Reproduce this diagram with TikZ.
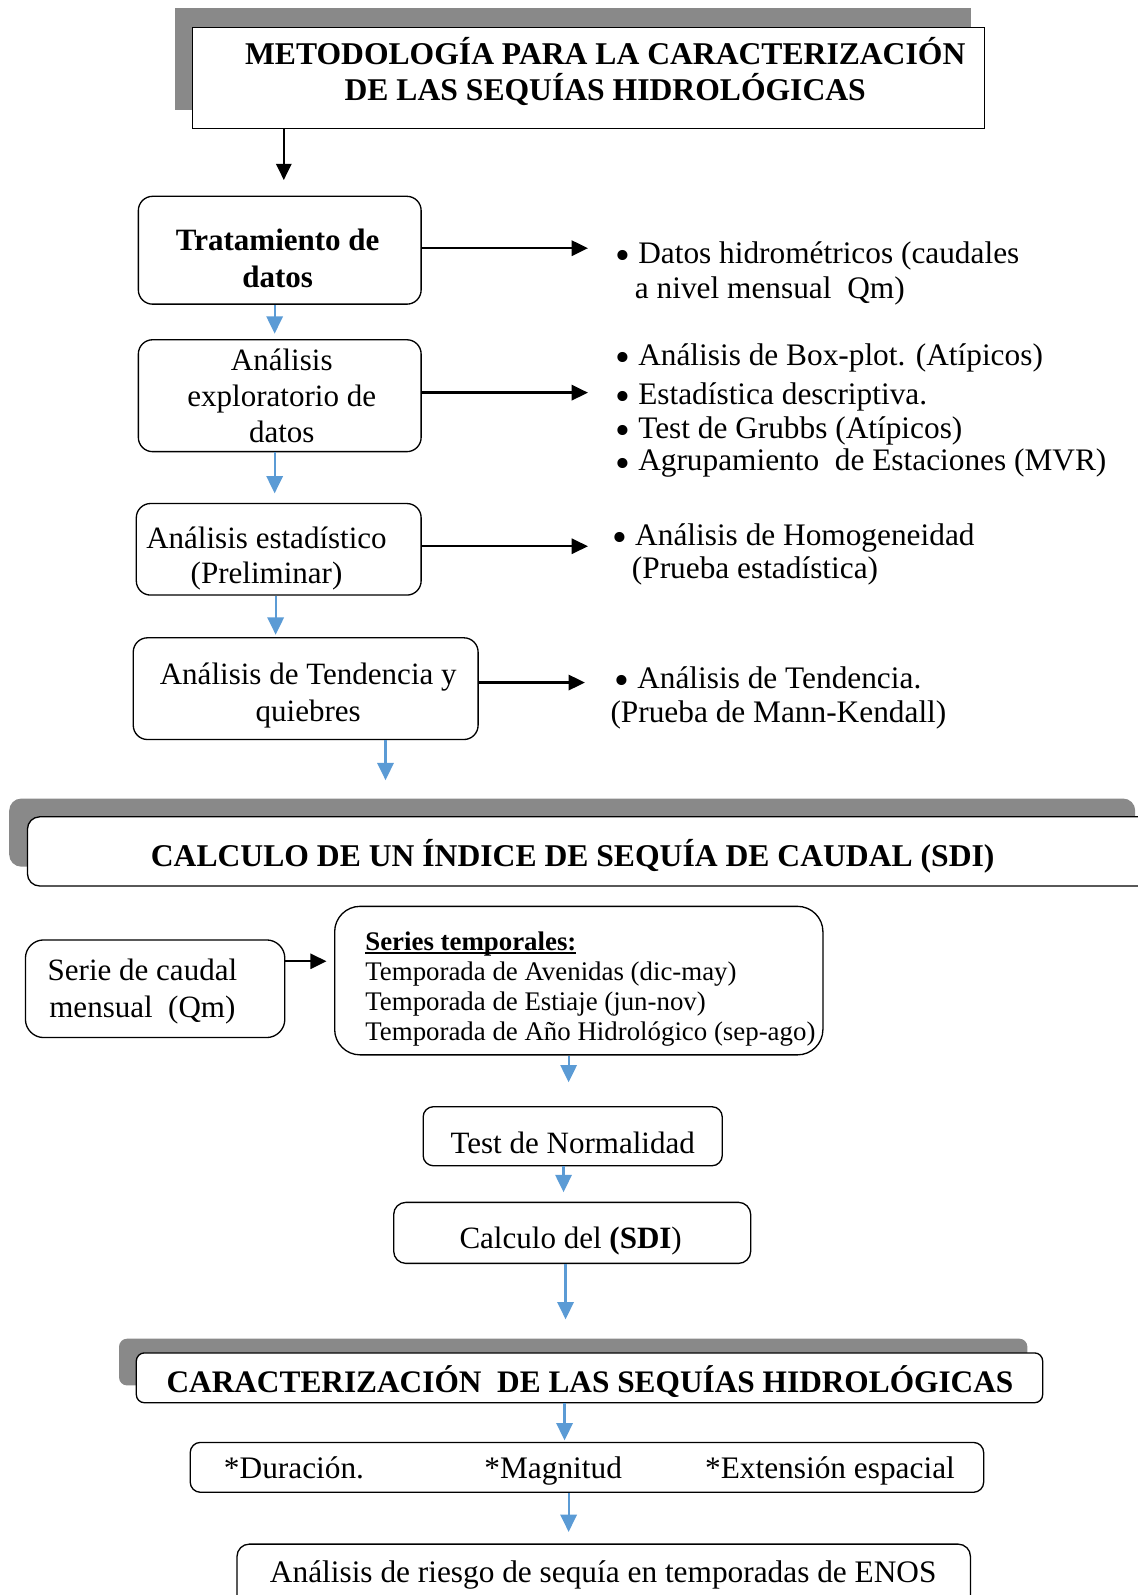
\documentclass[tikz,border=0pt]{standalone}
\usepackage{fontspec}
\setmainfont{Liberation Serif}
\usetikzlibrary{arrows.meta}
\definecolor{bargray}{RGB}{137,137,137}
\definecolor{flow}{RGB}{91,155,213}
% underline drawn as a bar just under the baseline
\newcommand\ulbar[1]{\setbox0\hbox{#1}\rlap{\rule[-3.5pt]{\wd0}{1.8pt}}\box0}
% a somewhat larger list bullet, sitting on the x-height middle
\newcommand\bul{\smash{\raisebox{-6pt}{\scalebox{1.35}{•}}}}

\begin{document}
\begin{tikzpicture}[x=1pt,y=-1pt,
  box/.style={draw, fill=white, line width=1.3pt, rounded corners=#1, inner sep=0pt},
  box/.default=14pt,
  txt/.style={font=\fontsize{30.5}{36}\selectfont, align=center, inner sep=0pt},
  btxt/.style={font=\fontsize{30.5}{36}\selectfont\bfseries, align=center, inner sep=0pt},
  item/.style={font=\fontsize{30.8}{34}\selectfont, align=left, anchor=base west, inner sep=0pt},
  blk/.style={line width=2.3pt, -{Triangle[length=16pt,width=15pt]}},
  blu/.style={flow, line width=2.2pt, -{Triangle[length=17pt,width=16pt]}},
]
\useasboundingbox (0,0) rectangle (1118,1568);

% ---------- title ----------
\fill[bargray] (172,8) rectangle (955,108);
\node[draw, fill=white, line width=1.3pt, minimum width=779pt, minimum height=99pt, inner sep=0pt] (title) at (578.5,76.5) {};
\node[btxt, font=\fontsize{31.1}{35.5}\selectfont\bfseries] (t-title) at (595,70)
  {METODOLOGÍA PARA LA CARACTERIZACIÓN\\DE LAS SEQUÍAS HIDROLÓGICAS};

% ---------- data treatment chain ----------
\node[box, minimum width=278pt, minimum height=106pt] (trat) at (275,246) {};
\node[btxt] (t-trat) at (273,254) {Tratamiento de\\datos};

\node[box, minimum width=278pt, minimum height=110pt] (expl) at (275,389) {};
\node[txt, font=\fontsize{30.5}{35.5}\selectfont] (t-expl) at (277,389) {Análisis\\exploratorio de\\datos};

\node[box, minimum width=280pt, minimum height=90pt] (estad) at (274,540) {};
\node[txt, font=\fontsize{30.5}{34}\selectfont] (t-estad) at (262,549) {Análisis estadístico\\(Preliminar)};

\node[box, minimum width=339pt, minimum height=100pt] (tend) at (300.5,677) {};
\node[txt] (t-tend) at (303,684) {Análisis de Tendencia y\\quiebres};

% ---------- side notes ----------
\node[item, anchor=west, font=\fontsize{30.8}{35}\selectfont] (n1) at (605,269)
  {\bul\ Datos hidrométricos (caudales\\\hspace*{19pt}a nivel mensual\enspace Qm)};
\node[item] (n2) at (605,359) {\bul\ Análisis de Box-plot. (Atípicos)};
\node[item] (n3) at (605,398) {\bul\ Estadística descriptiva.};
\node[item] (n4) at (605,431) {\bul\ Test de Grubbs (Atípicos)};
\node[item] (n5) at (605,463) {\bul\ Agrupamiento\enspace de Estaciones (MVR)};
\node[item, anchor=west, font=\fontsize{30.8}{33}\selectfont] (n6) at (602,545)
  {\bul\ Análisis de Homogeneidad\\\hspace*{19pt}(Prueba estadística)};
\node[item, anchor=west, font=\fontsize{30.8}{33}\selectfont] (n7) at (600,686)
  {\hspace*{4pt}\bul\ Análisis de Tendencia.\\(Prueba de Mann-Kendall)};

% ---------- connectors, first part ----------
\coordinate (a0) at (279,177);
\draw[blk] (title.south -| a0) -- (a0);
\coordinate (r1) at (578,244);
\coordinate (r2) at (578,386);
\coordinate (r3) at (578,537);
\coordinate (r4) at (575,671);
\draw[blk] (trat.east |- r1) -- (r1);
\draw[blk] (expl.east |- r2) -- (r2);
\draw[blk] (estad.east |- r3) -- (r3);
\draw[blk] (tend.east |- r4) -- (r4);
\coordinate (d1) at (270,328);
\coordinate (d2) at (270,485);
\coordinate (d3) at (271,624);
\coordinate (d4) at (379,767);
\draw[blu] (trat.south -| d1) -- (d1);
\draw[blu] (expl.south -| d2) -- (d2);
\draw[blu] (estad.south -| d3) -- (d3);
\draw[blu] (tend.south -| d4) -- (d4);

% ---------- SDI section ----------
\fill[bargray, rounded corners=12pt] (9,785) rectangle (1116,852);
\node[box=12pt, minimum width=1113pt, minimum height=68pt] (calc) at (583.5,837) {};
\node[btxt, font=\fontsize{31.1}{36}\selectfont\bfseries] (t-calc) at (563,842)
  {CALCULO DE UN ÍNDICE DE SEQUÍA DE CAUDAL (SDI)};

\node[box=18pt, minimum width=255pt, minimum height=96pt] (serie) at (152.5,972) {};
\node[txt] (t-serie) at (140,975) {Serie de caudal\\mensual\enspace(Qm)};

\node[box=25pt, minimum width=480pt, minimum height=146pt] (series) at (569,964) {};
\node[item, anchor=west, font=\fontsize{26.4}{29.5}\selectfont] (t-series) at (359,972)
  {\ulbar{\bfseries Series temporales:}\\
   Temporada de Avenidas (dic-may)\\
   Temporada de Estiaje (jun-nov)\\
   Temporada de Año Hidrológico (sep-ago)};

\node[box=10pt, minimum width=294pt, minimum height=58pt] (norm) at (563,1117) {};
\node[txt] (t-norm) at (563,1124) {Test de Normalidad};

\node[box=12pt, minimum width=351pt, minimum height=60pt] (sdi) at (562.5,1212) {};
\node[txt] (t-sdi) at (561,1220) {Calculo del \textbf{(SDI})};

\coordinate (r5) at (321,945);
\draw[blk] (serie.east |- r5) -- (r5);
\coordinate (d5) at (559,1064);
\coordinate (d6) at (554,1172);
\coordinate (d7) at (556,1297);
\draw[blu] (series.south -| d5) -- (d5);
\draw[blu] (norm.south -| d6) -- (d6);
\draw[blu] (sdi.south -| d7) -- (d7);

% ---------- characterisation section ----------
\fill[bargray, rounded corners=8pt] (117,1316) rectangle (1010,1362);
\node[box=8pt, minimum width=891pt, minimum height=49pt] (caract) at (579.5,1354.5) {};
\node[btxt, font=\fontsize{30.8}{36}\selectfont\bfseries] (t-caract) at (580,1358)
  {CARACTERIZACIÓN\enspace DE LAS SEQUÍAS HIDROLÓGICAS};

\node[box=10pt, minimum width=780pt, minimum height=49pt] (dur) at (577,1442.5) {};
\node[item] (t-dur) at (220,1453) {*Duración.};
\node[item] (t-mag) at (476,1453) {*Magnitud};
\node[item] (t-ext) at (693,1453) {*Extensión espacial};

\node[box=12pt, minimum width=721pt, minimum height=67pt] (enos) at (593.5,1551.5) {};
\node[txt, font=\fontsize{30.8}{36}\selectfont] (t-enos) at (593,1548) {Análisis de riesgo de sequía en temporadas de ENOS};

\coordinate (d8) at (555,1416);
\coordinate (d9) at (559,1506);
\draw[blu] (caract.south -| d8) -- (d8);
\draw[blu] (dur.south -| d9) -- (d9);
\end{tikzpicture}
\end{document}
